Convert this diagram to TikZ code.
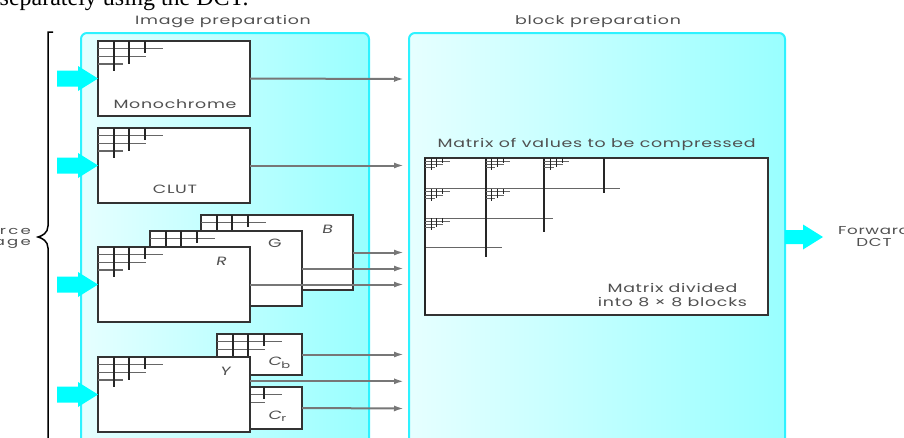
\documentclass[tikz,border=0pt]{standalone}
\usepackage{fontspec}
\setmainfont{Liberation Serif}
\newfontfamily\lbl[FakeStretch=1.45,LetterSpace=6]{Poppins}
\newfontfamily\lblit[FakeStretch=1.45,FakeSlant=0.2]{Poppins}
\newfontfamily\lblwide[FakeStretch=1.5,LetterSpace=20]{Poppins}
\usetikzlibrary{arrows.meta,calc}
\definecolor{panelL}{HTML}{E6FFFF}
\definecolor{panelR}{HTML}{99FFFF}
\definecolor{panelEdge}{HTML}{2EF2FF}
\definecolor{arrowCyan}{HTML}{00FFFF}
\definecolor{boxline}{HTML}{333333}
\definecolor{flowgray}{HTML}{777777}
\definecolor{labelgray}{HTML}{505050}
\newcommand\feedarrow[1]{\fill[arrowCyan, shift={(#1)}] (-41,-8) -- (-20,-8) -- (-20,-12.5) -- (0,0) -- (-20,12.5) -- (-20,8) -- (-41,8) -- cycle;}
\newcommand\stairs[1]{%
  \draw[gridh, shift={(#1.north west)}] (0,7.5) -- (65,7.5) (0,15.5) -- (48,15.5) (0,23) -- (25,23);
  \draw[gridv, shift={(#1.north west)}] (16,0) -- (16,30) (31,0) -- (31,22.5) (47,0) -- (47,12);}
\newcommand\ministairs[2]{%
  \begin{scope}[shift={(mat.north west)}, shift={(#1,#2)}, xscale=0.38, yscale=0.4]
  \draw[gridh, line width=0.8pt] (0,7.5) -- (65,7.5) (0,15.5) -- (48,15.5) (0,23) -- (25,23);
  \draw[gridv, line width=1pt] (16,0) -- (16,30) (31,0) -- (31,22.5) (47,0) -- (47,12);
  \end{scope}}
\begin{document}
\begin{tikzpicture}[x=1pt,y=-1pt,
  panel/.style={left color=panelL, right color=panelR, draw=panelEdge, line width=2pt,
    rounded corners=6pt, inner sep=0pt, outer sep=0pt, anchor=north west},
  box/.style={draw=boxline, fill=white, line width=1.4pt, inner sep=0pt, outer sep=0pt, anchor=north west},
  flow/.style={draw=flowgray, line width=2pt, -{Latex[length=10pt,width=6pt]}},
  gridv/.style={line width=1.5pt, draw=black!85},
  gridh/.style={line width=1.1pt, draw=black!60},
  lbltext/.style={font=\lbl\fontsize{12}{14}\selectfont, text=labelgray, inner sep=0pt},
  lblit/.style={font=\lblit\fontsize{12}{14}\selectfont, text=labelgray, inner sep=0pt}]
\useasboundingbox (0,0) rectangle (904,437);

% top caption fragment
\node[font=\fontsize{24}{28}\selectfont, anchor=base west, inner sep=0pt] (cap) at (-0.5,5.5) {separately using the DCT.};

% panels
\node[panel, minimum width=288pt, minimum height=430pt] (prep) at (81,33) {};
\node[panel, minimum width=376pt, minimum height=430pt] (blk) at (409,33) {};
\node[lbltext] (prepl) at (223,21.5) {Image preparation};
\node[lbltext] (blkl) at (598,21) {block preparation};

% brace and source label
\draw[line width=1.5pt] (53,32) -- (48,32) -- (48,226) .. controls (48,233) and (42,236) .. (38,237)
  .. controls (42,238) and (48,241) .. (48,248) -- (48,450);
\node[font=\lblwide\fontsize{11}{11.6}\selectfont, text=labelgray, inner sep=0pt, align=right, anchor=east] (src) at (31,237.5) {Source\\image};

% monochrome and CLUT
\node[box, minimum width=152pt, minimum height=75pt] (mono) at (98,41) {};
\stairs{mono}
\node[lbltext] (monol) at (175,103.7) {Monochrome};
\node[box, minimum width=152pt, minimum height=75pt] (clut) at (98,128) {};
\stairs{clut}
\node[lbltext] (clutl) at (175,189.7) {CLUT};

% RGB
\node[box, minimum width=152pt, minimum height=75pt] (bb) at (201,215) {};
\stairs{bb}
\node[lblit] (bl) at (327,229) {B};
\node[box, minimum width=152pt, minimum height=75pt] (gb) at (150,231) {};
\stairs{gb}
\node[lbltext] (gl) at (275,243.5) {G};
\node[box, minimum width=152pt, minimum height=75pt] (rb) at (98,247) {};
\stairs{rb}
\node[lblit] (rl) at (221,261) {R};

% YCbCr
\node[box, minimum width=85pt, minimum height=41pt] (cbb) at (217,334) {};
\stairs{cbb}
\node[lblit] (cbl) at (279,363) {C{\lbl\fontsize{9}{9}\selectfont\raisebox{-2.5pt}{b}}};
\node[box, minimum width=85pt, minimum height=42pt] (crb) at (217,387) {};
\stairs{crb}
\node[lblit] (crl) at (277,416.5) {C{\lbl\fontsize{9}{9}\selectfont\raisebox{-2.5pt}{r}}};
\node[box, minimum width=152pt, minimum height=75pt] (yb) at (98,357) {};
\stairs{yb}
\node[lblit] (yl) at (225,371) {Y};

% output connectors
\coordinate (tmono) at (404,79);
\coordinate (tclut) at (404,165.5);
\coordinate (tb) at (404,252.5);
\coordinate (tg) at (404,268.5);
\coordinate (tr) at (404,284.5);
\coordinate (tcb) at (404,354.5);
\coordinate (ty) at (404,381.3);
\coordinate (tcr) at (404,408.5);
\draw[flow] (mono.east) -- (tmono);
\draw[flow] (clut.east) -- (tclut);
\draw[flow] (bb.east) -- (tb);
\draw[flow] (gb.east) -- (tg);
\draw[flow] (rb.east) -- (tr);
\draw[flow] (cbb.east) -- (tcb);
\draw[flow] (yb.east |- ty) -- (ty);
\draw[flow] (crb.east) -- (tcr);

% input block arrows
\feedarrow{mono.west}
\feedarrow{clut.west}
\feedarrow{rb.west}
\feedarrow{yb.west}

% matrix
\node[lbltext] (matl) at (596.7,144) {Matrix of values to be compressed};
\node[box, minimum width=343pt, minimum height=157pt] (mat) at (425,158) {};
\draw[gridh, line width=1.3pt, shift={(mat.north west)}] (0,30.7) -- (195,30.7) (0,60.3) -- (128,60.3) (0,89.7) -- (76.7,89.7);
\draw[gridv, line width=1.8pt, shift={(mat.north west)}] (0,0) -- (0,157) (60.7,0) -- (60.7,99) (119.3,0) -- (119.3,74) (179,0) -- (179,34.7);
\ministairs{0}{0}
\ministairs{60.7}{0}
\ministairs{119.3}{0}
\ministairs{0}{30.7}
\ministairs{60.7}{30.7}
\ministairs{0}{60.3}
\node[font=\lbl\fontsize{12}{13.4}\selectfont, text=labelgray, inner sep=0pt, align=center] (divl) at (672.5,295) {Matrix divided\\into 8 × 8 blocks};

% forward DCT
\coordinate (dctin) at (823,237);
\fill[arrowCyan, shift={(dctin)}] (-38,-7) -- (-20,-7) -- (-20,-12.5) -- (0,0) -- (-20,12.5) -- (-20,7) -- (-38,7) -- cycle;
\node[font=\lbl\fontsize{11.5}{12}\selectfont, text=labelgray, inner sep=0pt, align=center] (dctl) at (874,236.7) {Forward\\DCT};
\end{tikzpicture}
\end{document}
